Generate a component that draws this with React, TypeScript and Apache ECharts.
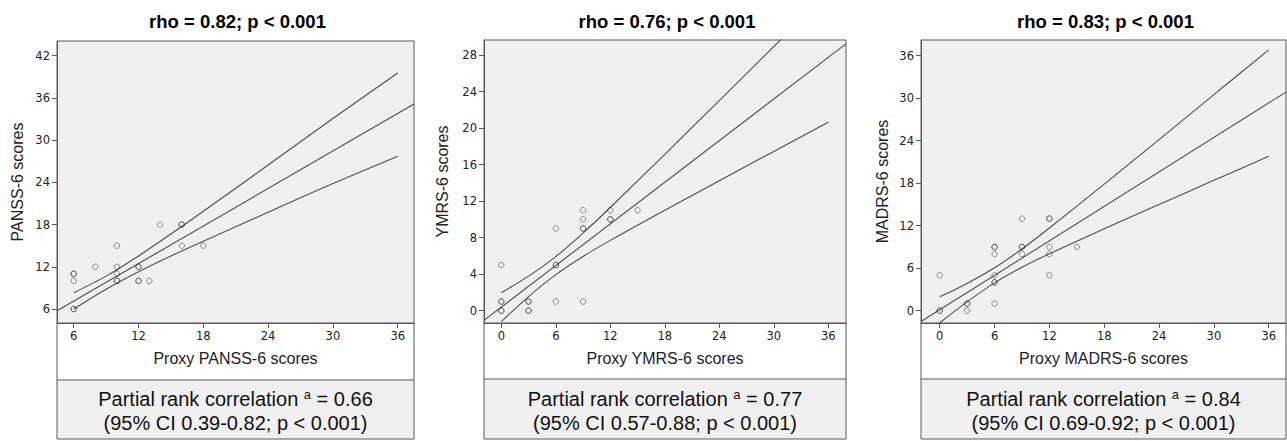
import React, { useEffect, useRef } from "react";
import * as echarts from "echarts";

// ---------- data ----------
const titles = ["rho = 0.82; p < 0.001", "rho = 0.76; p < 0.001", "rho = 0.83; p < 0.001"];
const xNames = ["Proxy PANSS-6 scores", "Proxy YMRS-6 scores", "Proxy MADRS-6 scores"];
const yNames = ["PANSS-6 scores", "YMRS-6 scores", "MADRS-6 scores"];
const partialRho = ["0.66", "0.77", "0.84"];
const ciText = ["(95% CI 0.39-0.82; p < 0.001)", "(95% CI 0.57-0.88; p < 0.001)", "(95% CI 0.69-0.92; p < 0.001)"];

const panssTicksX = [6, 12, 18, 24, 30, 36];
const panssTicksY = [6, 12, 18, 24, 30, 36, 42];
const ymrsTicksX = [0, 6, 12, 18, 24, 30, 36];
const ymrsTicksY = [0, 4, 8, 12, 16, 20, 24, 28];
const madrsTicksX = [0, 6, 12, 18, 24, 30, 36];
const madrsTicksY = [0, 6, 12, 18, 24, 30, 36];

// scatter points (repeated entries = overlapping cases)
const panssX = [6, 6, 6, 6, 6, 8, 10, 10, 10, 10, 10, 12, 12, 12, 12, 13, 14, 16, 16, 16, 18];
const panssY = [6, 6, 10, 11, 11, 12, 15, 12, 11, 10, 10, 12, 12, 10, 10, 10, 18, 18, 18, 15, 15];
const ymrsX = [0, 0, 0, 0, 0, 3, 3, 3, 3, 6, 6, 6, 6, 9, 9, 9, 9, 9, 12, 12, 12, 15];
const ymrsY = [5, 1, 1, 0, 0, 1, 1, 0, 0, 9, 5, 5, 1, 11, 10, 9, 9, 1, 11, 10, 10, 11];
const madrsX = [0, 0, 0, 3, 3, 3, 6, 6, 6, 6, 6, 6, 6, 9, 9, 9, 9, 12, 12, 12, 12, 12, 15];
const madrsY = [5, 0, 0, 1, 1, 0, 9, 9, 8, 5, 4, 4, 1, 13, 9, 9, 8, 13, 13, 9, 8, 5, 9];

// fit lines (end points read at the plot edges)
const panssFitX = [4.45, 37.51];
const panssFitY = [5.75, 35.13];
const ymrsFitX = [-1.905, 37.95];
const ymrsFitY = [-1.06, 29.22];
const madrsFitX = [-2.05, 37.89];
const madrsFitY = [-1.54, 30.86];

// 95% CI curves
const panssCiX = [6, 9, 12, 15, 18, 24, 30, 36];
const panssUpper = [8.3, 10.67, 13.53, 16.66, 19.89, 26.46, 33.07, 39.54];
const panssLower = [6.0, 8.81, 11.29, 13.52, 15.63, 19.74, 23.83, 27.71];
const ymrsCiX = [0, 3, 6, 9, 12, 18, 24, 30, 36];
const ymrsUpper = [1.97, 3.78, 5.92, 8.5, 11.3, 17.12, 23.01, 28.92, 34.85];
const ymrsLower = [-1.2, 1.54, 3.95, 5.94, 7.7, 11.0, 14.23, 17.44, 20.63];
const madrsCiX = [0, 3, 6, 9, 12, 18, 24, 30, 36];
const madrsUpper = [1.95, 3.85, 6.05, 8.71, 11.67, 17.87, 24.16, 30.5, 36.82];
const madrsLower = [-1.71, 1.25, 3.93, 6.13, 8.03, 11.57, 15.0, 18.4, 21.82];

// axis extents
const xMins = [4.45, -1.905, -2.05];
const xMaxs = [37.51, 37.95, 37.89];
const yMins = [4.01, -1.35, -1.74];
const yMaxs = [44.09, 29.64, 38.22];

// ---------- layout ----------
const layouts = [
  { left: 57, right: 414, top: 41, bottom: 323, capTop: 380, capBottom: 439, yGap: 32 },
  { left: 484, right: 846, top: 40, bottom: 323, capTop: 379, capBottom: 439, yGap: 34 },
  { left: 921, right: 1286, top: 40, bottom: 323, capTop: 379, capBottom: 439, yGap: 31 },
];

const FRAME = "#595959";
const LINE = "#4d4d4d";
const ARIAL = "'Liberation Sans', Arial, sans-serif";
const TICKFONT = "'DejaVu Sans', sans-serif";

const zip = (a: number[], b: number[]) => a.map((v, i) => [v, b[i]]);

const panels = [
  { tx: panssTicksX, ty: panssTicksY, px: panssX, py: panssY, fx: panssFitX, fy: panssFitY, cx: panssCiX, up: panssUpper, lo: panssLower },
  { tx: ymrsTicksX, ty: ymrsTicksY, px: ymrsX, py: ymrsY, fx: ymrsFitX, fy: ymrsFitY, cx: ymrsCiX, up: ymrsUpper, lo: ymrsLower },
  { tx: madrsTicksX, ty: madrsTicksY, px: madrsX, py: madrsY, fx: madrsFitX, fy: madrsFitY, cx: madrsCiX, up: madrsUpper, lo: madrsLower },
];

function buildOption() {
  const grid: any[] = [];
  const xAxis: any[] = [];
  const yAxis: any[] = [];
  const series: any[] = [];
  const elements: any[] = [];

  panels.forEach((p, i) => {
    const l = layouts[i];
    const cxMid = (l.left + l.right) / 2;
    grid.push({
      left: l.left,
      top: l.top,
      width: l.right - l.left,
      height: l.bottom - l.top,
      show: true,
      backgroundColor: "#f0f0f0",
      borderColor: FRAME,
      borderWidth: 1,
      containLabel: false,
      outerBoundsMode: "none",
    });
    xAxis.push({
      type: "value",
      gridIndex: i,
      min: xMins[i],
      max: xMaxs[i],
      axisLine: { show: true, onZero: false, lineStyle: { color: FRAME, width: 1 } },
      axisTick: { show: true, length: 5, customValues: p.tx, lineStyle: { color: FRAME } },
      axisLabel: { customValues: p.tx, color: "#222", fontFamily: TICKFONT, fontSize: 11.5, margin: 7 },
      splitLine: { show: false },
      name: xNames[i],
      nameLocation: "middle",
      nameGap: 27,
      nameTextStyle: { fontFamily: ARIAL, fontSize: 16, color: "#222" },
    });
    yAxis.push({
      type: "value",
      gridIndex: i,
      min: yMins[i],
      max: yMaxs[i],
      axisLine: { show: true, onZero: false, lineStyle: { color: FRAME, width: 1 } },
      axisTick: { show: true, length: 5, customValues: p.ty, lineStyle: { color: FRAME } },
      axisLabel: { customValues: p.ty, color: "#222", fontFamily: TICKFONT, fontSize: 11.5, margin: 7 },
      splitLine: { show: false },
      name: yNames[i],
      nameLocation: "middle",
      nameGap: l.yGap,
      nameRotate: 90,
      nameTextStyle: { fontFamily: ARIAL, fontSize: 16, color: "#222" },
    });
    const lineStyle = { color: LINE, width: 1.1 };
    series.push({
      type: "line",
      xAxisIndex: i,
      yAxisIndex: i,
      data: zip(p.fx, p.fy),
      symbol: "none",
      lineStyle,
      silent: true,
      z: 2,
    });
    series.push({
      type: "line",
      xAxisIndex: i,
      yAxisIndex: i,
      data: zip(p.cx, p.up),
      symbol: "none",
      smooth: 0.3,
      lineStyle,
      silent: true,
      z: 2,
    });
    series.push({
      type: "line",
      xAxisIndex: i,
      yAxisIndex: i,
      data: zip(p.cx, p.lo),
      symbol: "none",
      smooth: 0.3,
      lineStyle,
      silent: true,
      z: 2,
    });
    series.push({
      type: "scatter",
      xAxisIndex: i,
      yAxisIndex: i,
      data: zip(p.px, p.py),
      symbol: "circle",
      symbolSize: 5.5,
      itemStyle: { color: "rgba(0,0,0,0)", borderColor: "rgba(40,40,40,0.6)", borderWidth: 1 },
      silent: true,
      z: 3,
    });

    // frame below plot and caption box
    elements.push({
      type: "line",
      shape: { x1: l.left, y1: l.bottom, x2: l.left, y2: l.capTop },
      style: { stroke: FRAME, lineWidth: 1 },
    });
    elements.push({
      type: "line",
      shape: { x1: l.right, y1: l.bottom, x2: l.right, y2: l.capTop },
      style: { stroke: FRAME, lineWidth: 1 },
    });
    elements.push({
      type: "rect",
      shape: { x: l.left, y: l.capTop, width: l.right - l.left, height: l.capBottom - l.capTop },
      style: { fill: "#f0f0f0", stroke: FRAME, lineWidth: 1 },
    });
    elements.push({
      type: "text",
      x: cxMid + 2,
      y: 21.7,
      style: {
        text: titles[i],
        fontFamily: ARIAL,
        fontWeight: "bold",
        fontSize: 18.5,
        fill: "#000",
        align: "center",
        verticalAlign: "middle",
      },
    });
    elements.push({
      type: "text",
      x: cxMid,
      y: 398.5,
      style: {
        text: `{t|Partial rank correlation }{s|a}{t| = ${partialRho[i]}}`,
        align: "center",
        verticalAlign: "middle",
        rich: {
          t: { fontFamily: ARIAL, fontSize: 20, fill: "#111", lineHeight: 22 },
          s: { fontFamily: ARIAL, fontSize: 13, fill: "#111", lineHeight: 22, padding: [0, 0, 8, 0] },
        },
      },
    });
    elements.push({
      type: "text",
      x: cxMid,
      y: 423,
      style: {
        text: ciText[i],
        fontFamily: ARIAL,
        fontSize: 20,
        fill: "#111",
        align: "center",
        verticalAlign: "middle",
      },
    });
  });

  return {
    animation: false,
    backgroundColor: "#ffffff",
    grid,
    xAxis,
    yAxis,
    series,
    graphic: { elements },
  };
}

export default function App() {
  const ref = useRef<HTMLDivElement>(null);
  useEffect(() => {
    if (!ref.current) return;
    const chart = echarts.init(ref.current, undefined, { renderer: "svg" });
    chart.setOption(buildOption() as any);
    return () => chart.dispose();
  }, []);
  return (
    <div
      ref={ref}
      style={{ position: "fixed", left: 0, top: 0, width: 1287, height: 441, background: "#fff" }}
    />
  );
}
